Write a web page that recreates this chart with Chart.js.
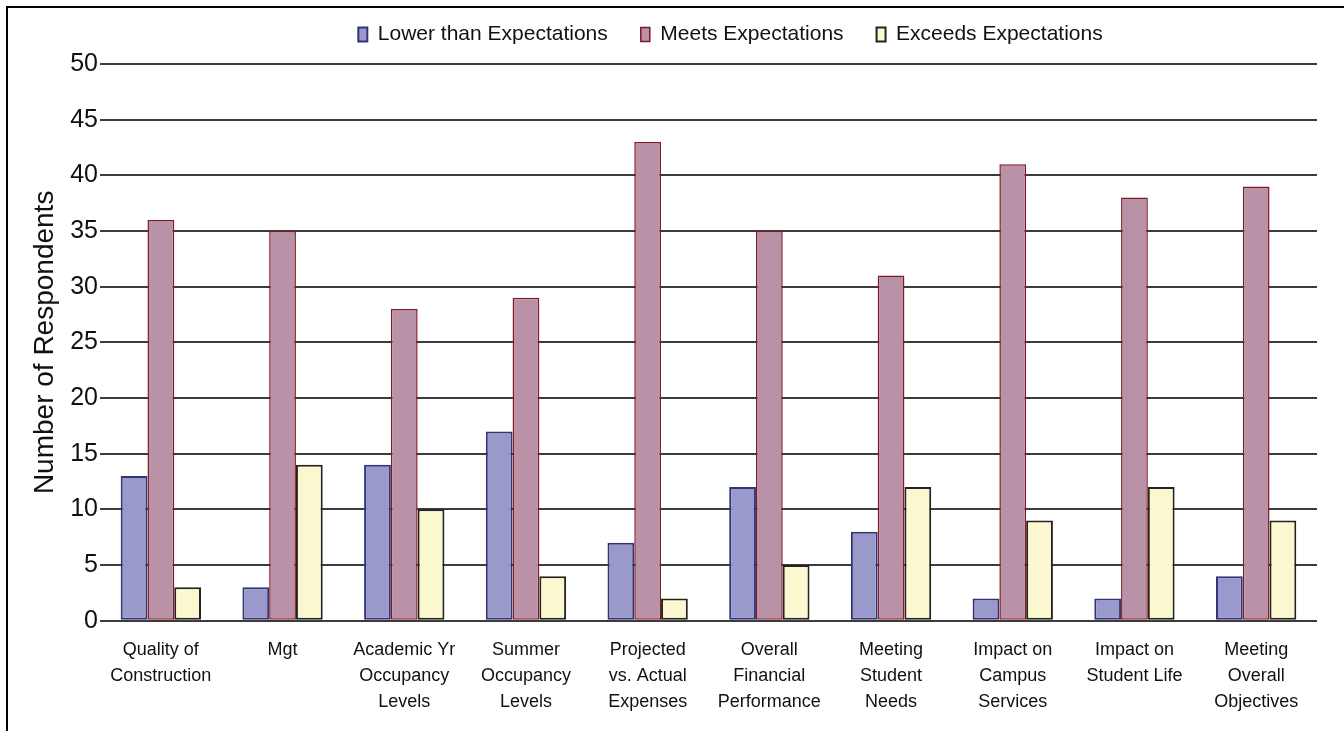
<!DOCTYPE html>
<html>
<head>
<meta charset="utf-8">
<script src="https://cdn.jsdelivr.net/npm/chart.js@4.4.1/dist/chart.umd.min.js"></script>
<style>
    html, body { margin: 0; padding: 0; background: #ffffff; }
    #wrap { width: 1344px; height: 731px; position: relative; }
</style>
</head>
<body>
<div id="wrap"><canvas id="c" width="1344" height="731"></canvas></div>
<script>
const categories = [
    ['Quality of', 'Construction'],
    ['Mgt'],
    ['Academic Yr', 'Occupancy', 'Levels'],
    ['Summer', 'Occupancy', 'Levels'],
    ['Projected', 'vs. Actual', 'Expenses'],
    ['Overall', 'Financial', 'Performance'],
    ['Meeting', 'Student', 'Needs'],
    ['Impact on', 'Campus', 'Services'],
    ['Impact on', 'Student Life'],
    ['Meeting', 'Overall', 'Objectives'],
];
const lowerValues = [13, 3, 14, 17, 7, 12, 8, 2, 2, 4];
const meetsValues = [36, 35, 28, 29, 43, 35, 31, 41, 38, 39];
const exceedsValues = [3, 14, 10, 4, 2, 5, 12, 9, 12, 9];
const yTicks = [0, 5, 10, 15, 20, 25, 30, 35, 40, 45, 50];

const FONT = '"Liberation Sans", Arial, Helvetica, sans-serif';

const ctx = document.getElementById('c').getContext('2d');
new Chart(ctx, {
    type: 'bar',
    data: {
        labels: categories,
        datasets: [
            {
                label: 'Lower than Expectations',
                data: lowerValues,
                backgroundColor: '#9999cc',
                borderColor: '#333377',
                borderWidth: 2,
                borderSkipped: false,
            },
            {
                label: 'Meets Expectations',
                data: meetsValues,
                backgroundColor: '#b992a8',
                borderColor: '#801a22',
                borderWidth: 1.5,
                borderSkipped: false,
            },
            {
                label: 'Exceeds Expectations',
                data: exceedsValues,
                backgroundColor: '#fbf8cf',
                borderColor: '#222222',
                borderWidth: 2,
                borderSkipped: false,
            },
        ],
    },
    options: {
        animation: false,
        responsive: false,
        devicePixelRatio: 1,
        layout: { padding: { top: 0, bottom: 8, left: 28, right: 27 } },
        datasets: { bar: { categoryPercentage: 0.66, barPercentage: 1.0 } },
        plugins: {
            tooltip: { enabled: false },
            legend: {
                position: 'top',
                labels: {
                    color: '#111111',
                    font: { family: FONT, size: 21 },
                    boxWidth: 9,
                    boxHeight: 14,
                    padding: 33,
                },
            },
        },
        scales: {
            x: {
                grid: { display: false },
                border: { display: false },
                ticks: {
                    color: '#111111',
                    font: { family: FONT, size: 18, lineHeight: 1.45 },
                    maxRotation: 0,
                    autoSkip: false,
                    padding: 8,
                },
            },
            y: {
                min: 0,
                max: 50,
                afterBuildTicks(scale) {
                    scale.ticks = yTicks.map((v) => ({ value: v }));
                },
                afterFit(scale) {
                    scale.width = 72;
                },
                grid: { color: '#3c3c3c', lineWidth: 2, drawTicks: false },
                border: { display: false },
                ticks: {
                    color: '#111111',
                    font: { family: FONT, size: 25 },
                    padding: 2,
                },
                title: {
                    display: true,
                    text: 'Number of Respondents',
                    color: '#111111',
                    font: { family: FONT, size: 28 },
                    padding: 0,
                },
            },
        },
    },
    plugins: [
        {
            id: 'frameAndShift',
            afterLayout(c) {
                if (c.legend) {
                    c.legend.left += 58;
                    c.legend.right += 58;
                    c.legend.top -= 9;
                    c.legend.bottom -= 9;
                }
            },
            beforeDraw(c) {
                const g = c.ctx;
                g.save();
                g.fillStyle = '#ffffff';
                g.fillRect(0, 0, c.width, c.height);
                g.strokeStyle = '#000000';
                g.lineWidth = 2;
                g.beginPath();
                g.moveTo(7, c.height);
                g.lineTo(7, 7);
                g.lineTo(c.width, 7);
                g.stroke();
                g.restore();
            },
        },
    ],
});
</script>
</body>
</html>
